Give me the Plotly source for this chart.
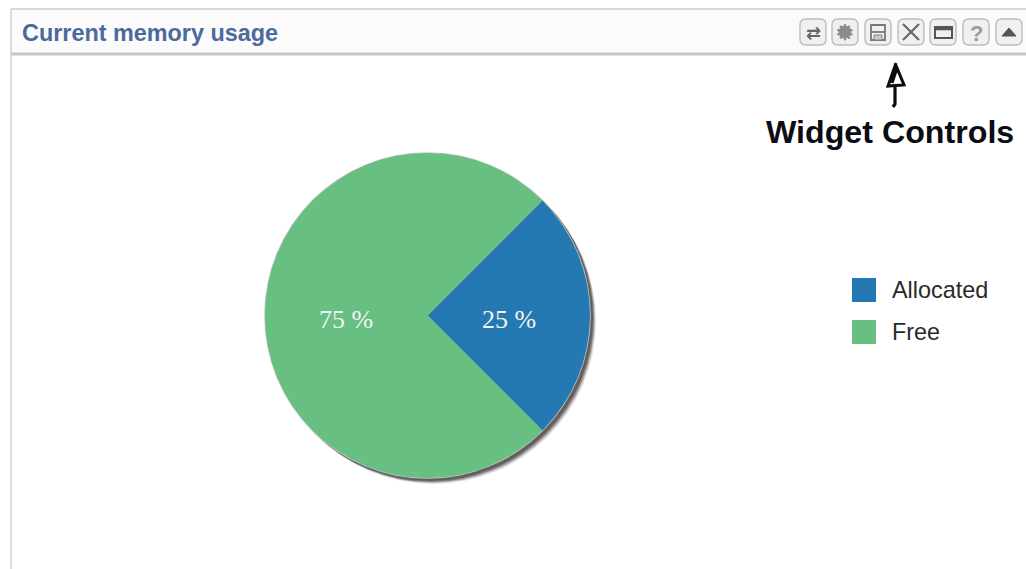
import math
import plotly.graph_objects as go

W, H = 1026, 569
labels = ["Allocated", "Free"]
values = [25, 75]
colors = ["#2579b3", "#67bf82"]
title = "Current memory usage"
note = "Widget Controls"
button_centers = [813, 845, 878, 911, 943, 976, 1009]
button_glyphs = ["⇄", "⚙", "", "", "", "?", ""]

CX, CY, R = 427.5, 315.5, 162.5
ROTATION = 45


def px(x):
    return x / W


def py(y):
    return 1 - y / H


def dom(cx, cy, r):
    return dict(x=[px(cx - r), px(cx + r)], y=[py(cy + r), py(cy - r)])


fig = go.Figure()
for dx, dy, dr, col in [(5.5, 5.5, 0.5, "#e4e2e0"), (4.5, 4.5, 0.5, "#b8b6b4"), (3.5, 3.5, 0.5, "#868483"),
                        (2.5, 2.5, 0.5, "#625f5e"), (0, 0, 0.8, "#c6c6c0")]:
    fig.add_trace(go.Pie(values=[1], labels=["shadow"], domain=dom(CX + dx, CY + dy, R + dr),
                         marker=dict(colors=[col], line=dict(width=0)), textinfo="none",
                         hoverinfo="skip", showlegend=False, sort=False))
fig.add_trace(go.Pie(labels=labels, values=values, domain=dom(CX, CY, R), sort=False,
                     direction="clockwise", rotation=ROTATION,
                     marker=dict(colors=colors, line=dict(width=0)),
                     textinfo="none", showlegend=False))

shapes = []
ann = []


def rect(x0, y0, x1, y1, fill=None, line=None, w=1):
    shapes.append(dict(type="rect", xref="paper", yref="paper", x0=px(x0), x1=px(x1), y0=py(y0), y1=py(y1),
                       fillcolor=fill or "rgba(0,0,0,0)", line=dict(color=line or "rgba(0,0,0,0)", width=w if line else 0)))


def seg(pts, col, w=1, fill=None, close=False):
    p = "M " + " L ".join(f"{px(x):.5f},{py(y):.5f}" for x, y in pts) + (" Z" if close else "")
    shapes.append(dict(type="path", xref="paper", yref="paper", path=p, fillcolor=fill or "rgba(0,0,0,0)",
                       line=dict(color=col, width=w)))


def text(x, y, s, size, col, fam="Liberation Sans", anchor="left", bold=False):
    ann.append(dict(xref="paper", yref="paper", x=px(x), y=py(y), text=f"<b>{s}</b>" if bold else s,
                    showarrow=False, xanchor=anchor, yanchor="middle",
                    font=dict(family=fam, size=size, color=col)))


# slice labels, placed from the values
total = sum(values)
start = ROTATION
for v in values:
    mid = math.radians(start + 360 * v / total / 2)
    start += 360 * v / total
    text(CX + 0.4985 * R * math.sin(mid), 319, f"{v} %", 26, "#f2f5f2", fam="Liberation Serif", anchor="center")

# panel frame and header
rect(11, 9, W + 2, 54, fill="#fbfbfb")
seg([(11, 9), (W, 9)], "#d8d8d8", 2)
seg([(11, 54), (W, 54)], "#c8c8c8", 3)
seg([(11, 9), (11, H)], "#cfcfcf", 1.5)
text(19.5, 33, title, 23.4, "#4a6a9e", bold=True)

# widget buttons
for c, g in zip(button_centers, button_glyphs):
    x0, x1, y0, y1, r = c - 13, c + 13, 19, 45, 6
    d = (f"M {px(x0 + r)},{py(y0)} L {px(x1 - r)},{py(y0)} Q {px(x1)},{py(y0)} {px(x1)},{py(y0 + r)} "
         f"L {px(x1)},{py(y1 - r)} Q {px(x1)},{py(y1)} {px(x1 - r)},{py(y1)} L {px(x0 + r)},{py(y1)} "
         f"Q {px(x0)},{py(y1)} {px(x0)},{py(y1 - r)} L {px(x0)},{py(y0 + r)} Q {px(x0)},{py(y0)} {px(x0 + r)},{py(y0)} Z")
    shapes.append(dict(type="path", xref="paper", yref="paper", path=d, fillcolor="#f0f0f0",
                       line=dict(color="#bcbcbc", width=1.4)))
    if g == "⇄":
        text(c, 32, g, 18, "#666666", fam="DejaVu Sans", anchor="center", bold=True)
    elif g == "⚙":
        shapes.append(dict(type="circle", xref="paper", yref="paper", x0=px(c - 6), x1=px(c + 6), y0=py(38), y1=py(26),
                           fillcolor="#8c8c8c", line=dict(width=0)))
        text(c, 32, g, 22, "#8c8c8c", fam="DejaVu Sans", anchor="center", bold=True)
    elif g == "?":
        text(c, 33, g, 22, "#9a9a9a", anchor="center", bold=True)
# save icon
rect(871, 25, 885, 40, line="#777777", w=1.8)
seg([(871, 32), (885, 32)], "#777777", 1.8)
rect(874, 35, 882, 40, fill="#c8c8c8", line="#888888", w=1)
# close icon
seg([(903, 24), (919, 40)], "#666666", 2.2)
seg([(919, 24), (903, 40)], "#666666", 2.2)
# window icon
rect(935, 27, 952, 38, line="#555555", w=2)
seg([(935, 29), (952, 29)], "#555555", 2.5)
# collapse icon
seg([(1002, 36), (1009, 28), (1016, 36)], "#555555", 1, fill="#555555", close=True)

# hand-drawn arrow and note
seg([(896, 63), (888, 86), (904, 85), (897, 68), (892, 83)], "#0c0c0c", 3)
seg([(895, 85), (895, 104), (893, 107)], "#0c0c0c", 3.2)
text(890, 132, note, 32.2, "#0c0c14", anchor="center", bold=True)

# legend
for (y, lab, col) in zip([290, 332], labels, colors):
    rect(852, y - 12, 876, y + 12, fill=col)
    text(890, y, lab, 23.4, "#2a2a2a")

fig.update_layout(width=W, height=H, margin=dict(l=0, r=0, t=0, b=0), paper_bgcolor="white",
                  shapes=shapes, annotations=ann, showlegend=False)
fig.write_html("out.html", post_script="document.body.style.margin='0';document.body.style.overflow='hidden';",
               config=dict(displayModeBar=False))
